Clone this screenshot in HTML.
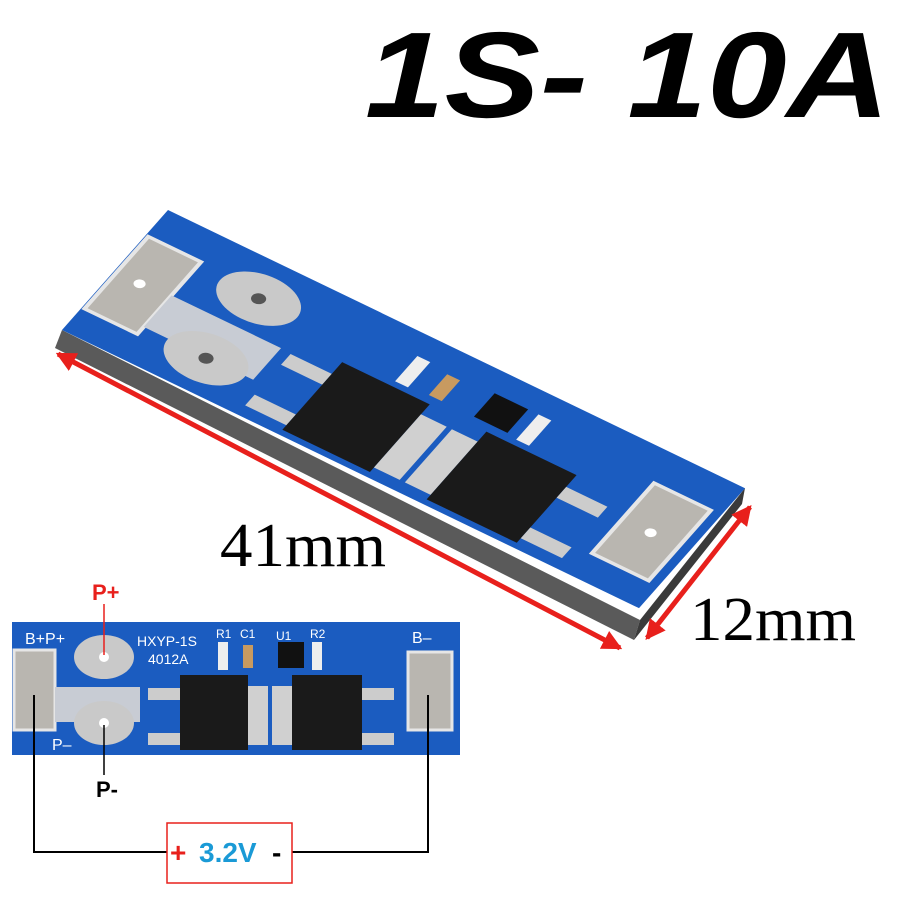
<!DOCTYPE html>
<html><head><meta charset="utf-8"><style>html,body{margin:0;padding:0;background:#fff}svg{display:block}</style></head>
<body>
<svg width="900" height="900" viewBox="0 0 900 900" xmlns="http://www.w3.org/2000/svg" font-family="Liberation Sans, sans-serif">
<defs>
<marker id="ah" markerWidth="4" markerHeight="4" refX="3.5" refY="2" orient="auto-start-reverse" markerUnits="strokeWidth"><path d="M0,0 L4,2 L0,4 z" fill="#e8201c"/></marker>
</defs>
<text x="365" y="117" font-size="122" font-weight="bold" font-style="italic" textLength="525" lengthAdjust="spacingAndGlyphs">1S- 10A</text>

<!-- main board side -->
<polygon points="62,330 640,620 634,640 55,348" fill="#5a5a5a"/>
<polygon points="640,620 745,488 742,504 634,640" fill="#3a3a3a"/>
<!-- main board top -->
<g transform="matrix(1.288,0.621,-0.797,0.902,168,210)">
<rect x="0" y="0" width="448" height="133" fill="#1b5cc0"/>
<rect x="2" y="28" width="41" height="80" fill="#b9b6b0" stroke="#e6e6e6" stroke-width="3"/>
<circle cx="20" cy="68" r="4" fill="#fff"/>
<rect x="43" y="65" width="85" height="35" fill="#c8ccd4"/>
<ellipse cx="92" cy="35" rx="30" ry="22" fill="#c9c9c9"/><circle cx="92" cy="35" r="5" fill="#555"/>
<ellipse cx="92" cy="101" rx="30" ry="22" fill="#c9c9c9"/><circle cx="92" cy="101" r="5" fill="#555"/>
<rect x="206" y="20" width="10" height="28" fill="#eee"/><rect x="231" y="23" width="10" height="23" fill="#c89a60"/>
<rect x="266" y="20" width="26" height="26" fill="#111"/><rect x="300" y="20" width="10" height="28" fill="#eee"/>
<rect x="136" y="66" width="32" height="12" fill="#ccc"/><rect x="136" y="111" width="32" height="12" fill="#ccc"/>
<rect x="168" y="53" width="68" height="75" fill="#1a1a1a"/>
<rect x="236" y="64" width="20" height="59" fill="#d0d0d0"/>
<rect x="260" y="64" width="20" height="59" fill="#d0d0d0"/>
<rect x="280" y="53" width="70" height="75" fill="#1a1a1a"/>
<rect x="350" y="66" width="32" height="12" fill="#ccc"/><rect x="350" y="111" width="32" height="12" fill="#ccc"/>
<rect x="396" y="30" width="44" height="78" fill="#b9b6b0" stroke="#e6e6e6" stroke-width="3"/>
<circle cx="418" cy="70" r="4" fill="#fff"/>
</g>

<!-- arrows -->
<line x1="58" y1="354" x2="620" y2="648" stroke="#e8201c" stroke-width="5" marker-start="url(#ah)" marker-end="url(#ah)"/>
<line x1="750" y1="507" x2="647" y2="638" stroke="#e8201c" stroke-width="5" marker-start="url(#ah)" marker-end="url(#ah)"/>
<text x="220" y="566" font-family="Liberation Serif, serif" font-size="62" textLength="166" lengthAdjust="spacingAndGlyphs">41mm</text>
<text x="690" y="640" font-family="Liberation Serif, serif" font-size="62" textLength="166" lengthAdjust="spacingAndGlyphs">12mm</text>

<!-- lower board -->
<g transform="translate(12,622)">
<rect x="0" y="0" width="448" height="133" fill="#1b5cc0"/>
<rect x="2" y="28" width="41" height="80" fill="#b9b6b0" stroke="#e6e6e6" stroke-width="3"/>
<rect x="43" y="65" width="85" height="35" fill="#c8ccd4"/>
<ellipse cx="92" cy="35" rx="30" ry="22" fill="#c9c9c9"/><circle cx="92" cy="35" r="5" fill="#fff"/>
<ellipse cx="92" cy="101" rx="30" ry="22" fill="#c9c9c9"/><circle cx="92" cy="101" r="5" fill="#fff"/>
<rect x="206" y="20" width="10" height="28" fill="#eee"/><rect x="231" y="23" width="10" height="23" fill="#c89a60"/>
<rect x="266" y="20" width="26" height="26" fill="#111"/><rect x="300" y="20" width="10" height="28" fill="#eee"/>
<rect x="136" y="66" width="32" height="12" fill="#ccc"/><rect x="136" y="111" width="32" height="12" fill="#ccc"/>
<rect x="168" y="53" width="68" height="75" fill="#1a1a1a"/>
<rect x="236" y="64" width="20" height="59" fill="#d0d0d0"/>
<rect x="260" y="64" width="20" height="59" fill="#d0d0d0"/>
<rect x="280" y="53" width="70" height="75" fill="#1a1a1a"/>
<rect x="350" y="66" width="32" height="12" fill="#ccc"/><rect x="350" y="111" width="32" height="12" fill="#ccc"/>
<rect x="396" y="30" width="44" height="78" fill="#b9b6b0" stroke="#e6e6e6" stroke-width="3"/>
<g fill="#fff" font-size="16">
<text x="13" y="22">B+P+</text><text x="40" y="128">P–</text>
<text x="125" y="24" font-size="14">HXYP-1S</text><text x="136" y="42" font-size="14">4012A</text>
<text x="204" y="16" font-size="12">R1</text><text x="228" y="16" font-size="12">C1</text>
<text x="264" y="18" font-size="12">U1</text><text x="298" y="16" font-size="12">R2</text>
<text x="400" y="21">B–</text>
</g>
</g>

<!-- labels and wires -->
<text x="92" y="600" font-size="22" font-weight="bold" fill="#e8201c">P+</text>
<line x1="104" y1="604" x2="104" y2="655" stroke="#e8201c" stroke-width="1.5"/>
<line x1="104" y1="725" x2="104" y2="775" stroke="#000" stroke-width="1.5"/>
<text x="96" y="797" font-size="22" font-weight="bold">P-</text>
<polyline points="34,695 34,852 167,852" fill="none" stroke="#000" stroke-width="2"/>
<polyline points="428,695 428,852 292,852" fill="none" stroke="#000" stroke-width="2"/>
<rect x="167" y="823" width="125" height="60" fill="#fff" stroke="#e8201c" stroke-width="1.5"/>
<text x="170" y="862" font-size="28" font-weight="bold" fill="#e8201c">+</text>
<text x="199" y="862" font-size="28" font-weight="bold" fill="#1a9ad6">3.2V</text>
<text x="272" y="862" font-size="28" font-weight="bold">-</text>
</svg>
</body></html>
